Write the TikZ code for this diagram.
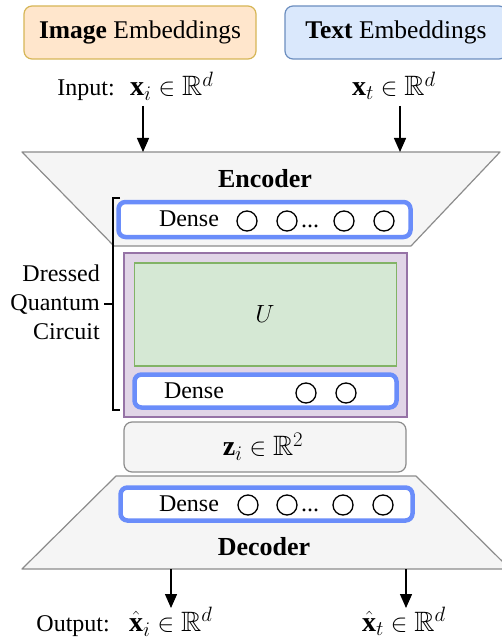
\documentclass[tikz,border=0pt]{standalone}
\usepackage{amsmath,amssymb}
\usepackage{fontspec}
\setmainfont{Liberation Serif}
\usetikzlibrary{arrows.meta}
\definecolor{peachfill}{HTML}{FFE6CC}
\definecolor{peachdraw}{HTML}{D6B656}
\definecolor{bluefill}{HTML}{DAE8FC}
\definecolor{bluedraw}{HTML}{6C8EBF}
\definecolor{grayfill}{HTML}{F5F5F5}
\definecolor{graydraw}{HTML}{8C8C8C}
\definecolor{densecol}{HTML}{6A8DFA}
\definecolor{purplefill}{HTML}{E1D5E7}
\definecolor{purpledraw}{HTML}{9673A6}
\definecolor{greenfill}{HTML}{D5E8D4}
\definecolor{greendraw}{HTML}{82B366}
\tikzset{
  embbox/.style={draw, line width=1.2pt, rounded corners=8pt, minimum height=53pt, inner sep=0pt,
    font=\fontsize{25.5}{30}\selectfont},
  densebox/.style={draw=densecol, fill=white, line width=4.5pt, rounded corners=7pt, inner sep=0pt},
  neuron/.style={circle, draw, line width=1.3pt, minimum size=20pt, inner sep=0pt},
  lbl/.style={inner sep=0pt, font=\fontsize{24}{28}\selectfont},
  mlbl/.style={inner sep=0pt, font=\fontsize{28}{32}\selectfont},
  headlbl/.style={inner sep=0pt, font=\fontsize{26}{30}\selectfont\bfseries},
  trap/.style={draw=graydraw, fill=grayfill, line width=1.2pt, line join=round},
  arr/.style={-{Triangle[length=14pt,width=12pt]}, line width=1.4pt},
}
\begin{document}
\begin{tikzpicture}[x=1pt,y=-1pt]
\useasboundingbox (0,0) rectangle (502,639);
\clip (0,0) rectangle (502,639);

% embedding boxes
\node[embbox, fill=peachfill, draw=peachdraw, minimum width=232pt] (img) at (140,32.5) {\textbf{Image} Embeddings};
\node[embbox, fill=bluefill, draw=bluedraw, minimum width=222pt] (txt) at (396,32.5) {\textbf{Text} Embeddings};

% input labels
\node[lbl, anchor=base east] (inlbl) at (115,95.5) {Input:};
\node[mlbl, anchor=base west] (xi) at (130,95.5) {$\mathbf{x}_i \in \mathbb{R}^d$};
\node[mlbl, anchor=base west] (xt) at (352,95.5) {$\mathbf{x}_t \in \mathbb{R}^d$};

% encoder trapezoid
\draw[trap] (22,152) -- (500,152) -- (411,246) -- (114,246) -- cycle;
\node[headlbl] (enc) at (265,179) {Encoder};
\coordinate (in1s) at (143,106);
\coordinate (in1e) at (143,152);
\coordinate (in2s) at (400,106);
\coordinate (in2e) at (400,152);
\draw[arr] (in1s) -- (in1e);
\draw[arr] (in2s) -- (in2e);

% dense box 1
\node[densebox, minimum width=292pt, minimum height=35pt] (d1) at (264.5,219.5) {};
\node[lbl] (d1t) at (189,219) {Dense};
\node[neuron] (n11) at (247,221) {};
\node[neuron] (n12) at (287,221) {};
\node[lbl, anchor=base] (dots1) at (310,227) {...};
\node[neuron] (n13) at (344,221) {};
\node[neuron] (n14) at (384,221) {};

% dressed quantum circuit
\node[draw=purpledraw, fill=purplefill, line width=1.2pt, minimum width=283pt, minimum height=164pt, inner sep=0pt] (dqc) at (265.5,335) {};
\node[draw=greendraw, fill=greenfill, line width=1.2pt, minimum width=262pt, minimum height=103pt, inner sep=0pt] (ubox) at (265.5,314.5) {};
\node[inner sep=0pt, font=\fontsize{32}{36}\selectfont] (U) at (265,314) {$U$};
\node[densebox, minimum width=262pt, minimum height=33pt] (d2) at (265.5,391) {};
\node[lbl] (d2t) at (194,391) {Dense};
\node[neuron] (n21) at (306,393) {};
\node[neuron] (n22) at (346,393) {};

% bracket
\coordinate (bt) at (120,198);
\coordinate (bb) at (120,410);
\coordinate (bm) at (104,304);
\draw[line width=1.3pt] (bt) -- (113,198) -- (113,410) -- (bb);
\draw[line width=1.3pt] (bm) -- (113,304);
\node[lbl, anchor=east, align=right] (dqclbl) at (100,302) {Dressed\\[1pt]Quantum\\[1pt]Circuit};

% latent box
\node[draw=graydraw, fill=grayfill, line width=1.2pt, rounded corners=8pt, minimum width=282pt, minimum height=50pt, inner sep=0pt] (z) at (265,447) {};
\node[mlbl] (zt) at (263,447) {$\mathbf{z}_i \in \mathbb{R}^2$};

% decoder trapezoid
\draw[trap] (116,476) -- (416,476) -- (510,569) -- (22,569) -- cycle;
\node[densebox, minimum width=292pt, minimum height=33pt] (d3) at (266.5,504) {};
\node[lbl] (d3t) at (189,504) {Dense};
\node[neuron] (n31) at (248,505) {};
\node[neuron] (n32) at (287,505) {};
\node[lbl, anchor=base] (dots3) at (310,511) {...};
\node[neuron] (n33) at (343,505) {};
\node[neuron] (n34) at (383,505) {};
\node[headlbl] (dec) at (264,547) {Decoder};

% outputs
\coordinate (out1s) at (171,569);
\coordinate (out1e) at (171,608);
\coordinate (out2s) at (406,569);
\coordinate (out2e) at (406,608);
\draw[arr] (out1s) -- (out1e);
\draw[arr] (out2s) -- (out2e);
\node[lbl, anchor=base east] (outlbl) at (110,631) {Output:};
\node[mlbl, anchor=base west] (xhi) at (129,631) {$\hat{\mathbf{x}}_i \in \mathbb{R}^d$};
\node[mlbl, anchor=base west] (xht) at (362,631) {$\hat{\mathbf{x}}_t \in \mathbb{R}^d$};
\end{tikzpicture}
\end{document}
